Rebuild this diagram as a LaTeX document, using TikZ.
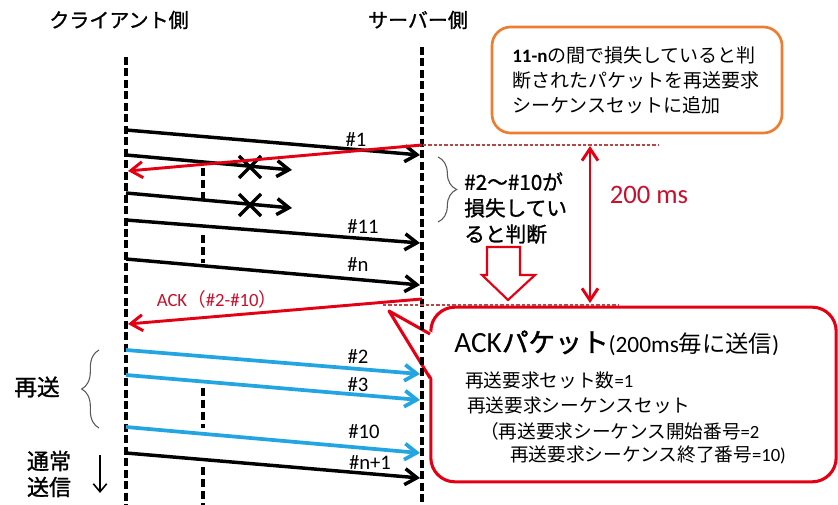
\documentclass[tikz,border=0pt]{standalone}
\usepackage{fontspec}
\setmainfont{Noto Sans CJK JP}
\newfontfamily\lat{Carlito}
\newfontfamily\semib[FakeBold=1.2]{Noto Sans CJK JP}
\newfontfamily\fatb[FakeBold=1.6]{Noto Sans CJK JP}
\usetikzlibrary{arrows.meta,decorations.pathreplacing,shapes.misc}
\definecolor{myred}{RGB}{228,0,18}
\definecolor{dkred}{RGB}{200,16,46}
\definecolor{myblue}{RGB}{35,165,225}
\definecolor{myorange}{RGB}{237,125,49}
\definecolor{dashred}{RGB}{185,70,70}
\definecolor{bracegray}{RGB}{90,90,90}
\begin{document}
\begin{tikzpicture}[x=0.75pt,y=-0.75pt,
  lifeline/.style={line width=2.6pt, dash pattern=on 6pt off 2.6pt},
  midline/.style={line width=2.6pt, dash pattern=on 6pt off 3pt},
  msg/.style={line width=2.6pt, -{Straight Barb[length=9pt,width=12pt]}},
  redmsg/.style={myred, line width=2.2pt, -{Straight Barb[length=9pt,width=12pt]}},
  bluemsg/.style={myblue, line width=2.8pt, -{Straight Barb[length=9pt,width=12pt]}},
  lbl/.style={inner sep=0pt, font=\lat\fontsize{15.5}{18}\selectfont},
  txt/.style={inner sep=0pt},
  xmark/.style={draw, cross out, line width=2.5pt, minimum size=14pt, inner sep=0pt},
  thindash/.style={dashred, line width=0.8pt, dash pattern=on 2.5pt off 1.5pt},
  brc/.style={bracegray, line width=0.8pt, decorate}
]
\useasboundingbox (0,0) rectangle (838,505);
\fill[white] (0,0) rectangle (838,505);

% boxes
\node[draw=myred, line width=2.3pt, rounded corners=18pt, minimum width=304pt, minimum height=131pt, fill=white] (callout) at (633.5,394.5) {};
\coordinate (tip) at (389,311);
\coordinate (tb1) at (430,334);
\coordinate (tb2) at (430,378);
\fill[white] (tip) -- (433,333) -- (433,379) -- cycle;
\draw[myred, line width=2.3pt, line join=round] (tb1) -- (tip) -- (tb2);

\node[draw=myorange, line width=2pt, rounded corners=14pt, minimum width=217.5pt, minimum height=79.5pt, fill=white] (note) at (637,80) {};
\node[txt, anchor=west, align=left, font=\fontsize{14.25}{18.75}\selectfont] (notetext) at (512,80)
  {{\lat\bfseries 11-n}の間で損失していると判\\断されたパケットを再送要求\\シーケンスセットに追加};

% titles
\node[txt, font=\semib\fontsize{15}{18}\selectfont] (client) at (119,20) {クライアント側};
\node[txt, font=\semib\fontsize{15}{18}\selectfont] (server) at (418,20) {サーバー側};

% lifelines
\coordinate (ctop) at (126,57);
\coordinate (cbot) at (126,505);
\coordinate (stop) at (422,47);
\coordinate (sbot) at (422,505);
\draw[lifeline] (ctop) -- (cbot);
\draw[lifeline] (stop) -- (sbot);
\coordinate (d1a) at (203,168); \coordinate (d1b) at (203,199);
\coordinate (d2a) at (203,235); \coordinate (d2b) at (203,263);
\coordinate (d3a) at (203,388); \coordinate (d3b) at (203,428);
\coordinate (d4a) at (203,467); \coordinate (d4b) at (203,505);
\draw[midline] (d1a) -- (d1b);
\draw[midline] (d2a) -- (d2b);
\draw[midline] (d3a) -- (d3b);
\draw[midline] (d4a) -- (d4b);

% thin dashed red lines
\coordinate (h1a) at (423,145); \coordinate (h1b) at (658,145);
\coordinate (h2a) at (383,305); \coordinate (h2b) at (618,305);
\draw[thindash] (h1a) -- (h1b);
\draw[thindash] (h2a) -- (h2b);

% black messages
\coordinate (m1) at (126,130); \coordinate (m1e) at (420,155);
\coordinate (m2) at (126,155); \coordinate (m2e) at (292,170);
\coordinate (m3) at (126,193); \coordinate (m3e) at (292,208);
\coordinate (m11) at (126,220); \coordinate (m11e) at (420,243);
\coordinate (mn) at (126,259); \coordinate (mne) at (420,285);
\draw[msg] (m1) -- (m1e);
\draw[msg] (m2) -- (m2e);
\draw[msg] (m3) -- (m3e);
\draw[msg] (m11) -- (m11e);
\draw[msg] (mn) -- (mne);
\node[xmark] (x1) at (250,167) {};
\node[xmark] (x2) at (250,205) {};
\node[lbl] (l1) at (356,140) {\#1};
\node[lbl] (l11) at (363,227) {\#11};
\node[lbl] (ln) at (358,265) {\#n};

% red messages
\coordinate (r1) at (422,145); \coordinate (r1e) at (128,171);
\coordinate (ak) at (422,299); \coordinate (ake) at (128,324);
\draw[redmsg] (r1) -- (r1e);
\draw[redmsg] (ak) -- (ake);
\node[txt, text=dkred, font=\fontsize{14}{16}\selectfont] (acklbl) at (217,299) {{\lat ACK}（{\lat \#2-\#10}）};

% blue messages
\coordinate (b2) at (126,350); \coordinate (b2e) at (420,374);
\coordinate (b3) at (126,375); \coordinate (b3e) at (420,400);
\coordinate (b10) at (126,427); \coordinate (b10e) at (420,453);
\coordinate (bn1) at (126,453); \coordinate (bn1e) at (420,478);
\draw[bluemsg] (b2) -- (b2e);
\draw[bluemsg] (b3) -- (b3e);
\draw[bluemsg] (b10) -- (b10e);
\draw[msg] (bn1) -- (bn1e);
\node[lbl] (l2) at (358,357) {\#2};
\node[lbl] (l3) at (358,385) {\#3};
\node[lbl] (l10) at (364,432) {\#10};
\node[lbl] (ln1) at (370,463) {\#n+1};

% right brace and text
\coordinate (rb1) at (438,157); \coordinate (rb2) at (438,222);
\draw[brc, decoration={brace, amplitude=14pt}] (rb1) -- (rb2);
\node[txt, anchor=west, align=left, font=\semib\fontsize{15.5}{19.5}\selectfont] (losttext) at (464,208)
  {\#2～\#10が\\損失してい\\ると判断};

% hollow block arrow
\draw[myred, line width=1.6pt, fill=white, line join=miter]
  (487,247) -- (520,247) -- (520,275) -- (535,275) -- (508,300) -- (482,275) -- (487,275) -- cycle;

% 200 ms
\coordinate (t1) at (590,146); \coordinate (t2) at (590,303);
\draw[myred, line width=2.2pt, {Straight Barb[length=9pt,width=12pt]}-{Straight Barb[length=9pt,width=12pt]}] (t1) -- (t2);
\node[txt, text=dkred, font=\lat\fontsize{20}{24}\selectfont] (ms) at (649,195) {200 ms};

% callout text
\node[txt, anchor=west] (acktitle) at (454,343)
  {{\lat\fontsize{22}{26}\selectfont ACK}{\fatb\fontsize{20}{24}\selectfont パケット}{\lat\fontsize{17.5}{20}\selectfont (200ms}{\fontsize{17.5}{20}\selectfont 毎に送信}{\lat\fontsize{17.5}{20}\selectfont )}};
\node[txt, anchor=west, font=\fontsize{14}{16}\selectfont] (cl1) at (465,380) {再送要求セット数{\lat =1}};
\node[txt, anchor=west, font=\fontsize{14}{16}\selectfont] (cl2) at (467,405) {再送要求シーケンスセット};
\node[txt, anchor=west, font=\fontsize{14}{16}\selectfont] (cl3) at (480,431) {（再送要求シーケンス開始番号{\lat =2}};
\node[txt, anchor=west, font=\fontsize{14}{16}\selectfont] (cl4) at (510,455) {再送要求シーケンス終了番号{\lat =10)}};

% left side
\coordinate (lb1) at (99,428); \coordinate (lb2) at (99,350);
\draw[brc, decoration={brace, amplitude=13pt}] (lb1) -- (lb2);
\node[txt, font=\semib\fontsize{17}{20}\selectfont] (resend) at (37,387) {再送};
\node[txt, align=center, font=\semib\fontsize{16.5}{19.5}\selectfont] (normal) at (49,474) {通常\\送信};
\coordinate (da) at (100,455); \coordinate (db) at (100,493);
\draw[line width=1.2pt, -{Straight Barb[length=6pt,width=10pt]}] (da) -- (db);
\end{tikzpicture}
\end{document}
